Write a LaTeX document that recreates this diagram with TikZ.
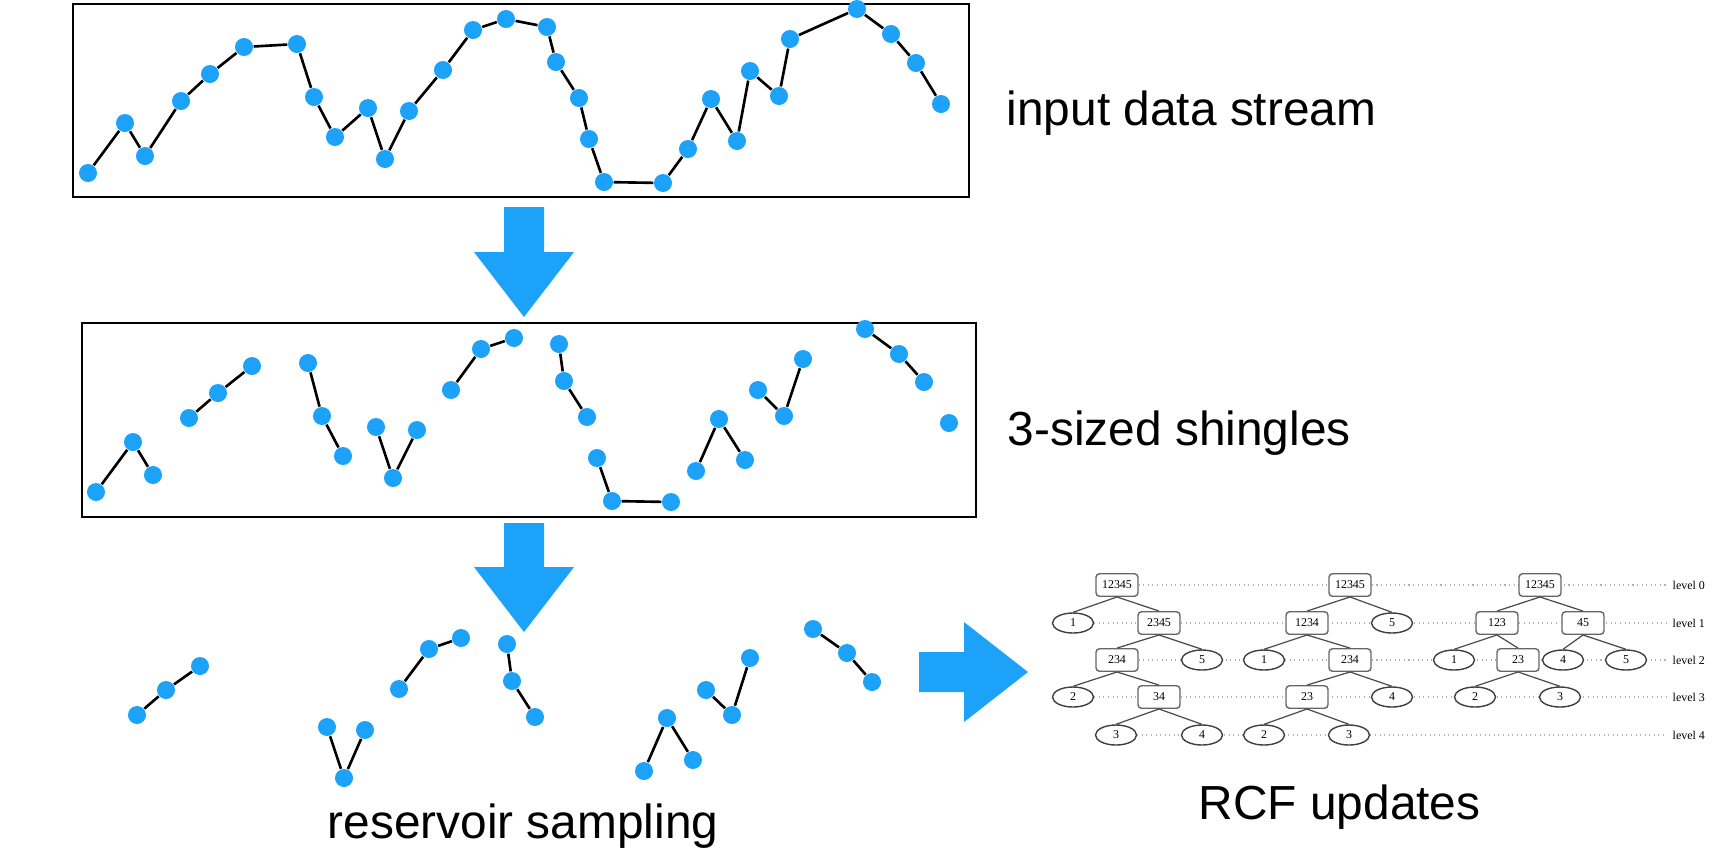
\documentclass[tikz,border=0pt]{standalone}
\usepackage{fontspec}
\setmainfont{Liberation Sans}
\newfontfamily\treefont{Liberation Serif}
\usetikzlibrary{shapes.geometric,backgrounds}

\definecolor{dotblue}{HTML}{1DA2FA}

\begin{document}
\begin{tikzpicture}[
    x=0.01cm, y=-0.01cm,
    dot/.style={circle, fill=dotblue, inner sep=0pt, minimum size=0.18cm},
    link/.style={draw=black, line width=0.75pt},
    streambox/.style={draw=black, line width=0.75pt},
    bigarrow/.style={fill=dotblue},
    caption/.style={anchor=base west, inner sep=0pt,
        font=\fontsize{13.6}{16}\selectfont},
    tbox/.style={
        draw=black!60,
        fill=white,
        rounded corners=1pt,
        minimum width=0.42cm,
        minimum height=0.225cm,
        inner sep=0pt,
        font=\treefont\fontsize{3.4}{4}\selectfont
    },
    tleaf/.style={
        ellipse,
        draw=black!75,
        fill=white,
        minimum width=0.41cm,
        minimum height=0.2cm,
        inner sep=0pt,
        font=\treefont\fontsize{3.4}{4}\selectfont
    },
    tedge/.style={draw=black!70, line width=0.35pt},
    levelline/.style={draw=black!30, densely dotted, line width=0.3pt},
    lvl/.style={anchor=west, inner sep=0pt, inner xsep=0.05cm,
        font=\treefont\fontsize{3.4}{4}\selectfont}
]
    \useasboundingbox (0,0) rectangle (1723,856);

    % input data stream
    \draw[streambox] (73,4) rectangle (969,197);
    \foreach \px/\py [count=\i] in {88/173, 125/123, 145/156, 181/101, 210/74,
        244/47, 297/44, 314/97, 335/137, 368/108, 385/159, 409/111, 443/70,
        473/30, 506/19, 547/27, 556/62, 579/98, 589/139, 604/182, 663/183,
        688/149, 711/99, 737/141, 750/71, 779/96, 790/39, 857/9, 891/34,
        916/63, 941/104}
        \node[dot] (s\i) at (\px,\py) {};
    \foreach \i [remember=\i as \j (initially 1)] in {2,...,31}
        \draw[link] (s\j) -- (s\i);
    \node[caption] (stream) at (1006,125) {input data stream};

    \fill[bigarrow] (504,207) -- (544,207) -- (544,252) -- (574,252)
        -- (524,317) -- (474,252) -- (504,252) -- cycle;

    % shingles
    \draw[streambox] (82,323) rectangle (976,517);
    \foreach \px/\py [count=\i] in {96/492, 133/442, 153/475, 189/418, 218/393,
        252/366, 308/363, 322/416, 343/456, 376/427, 393/478, 417/430,
        451/390, 481/349, 514/338, 559/344, 564/381, 587/417, 597/458,
        612/501, 671/502, 696/471, 719/419, 745/460, 758/390, 784/416,
        803/359, 865/329, 899/354, 924/382, 949/423}
        \node[dot] (k\i) at (\px,\py) {};
    \foreach \a/\b in {1/2, 2/3, 4/5, 5/6, 7/8, 8/9, 10/11, 11/12, 13/14,
        14/15, 16/17, 17/18, 19/20, 20/21, 22/23, 23/24, 25/26, 26/27,
        28/29, 29/30}
        \draw[link] (k\a) -- (k\b);
    \node[caption] (shingles) at (1007,445) {3-sized shingles};

    \fill[bigarrow] (504,523) -- (544,523) -- (544,567) -- (574,567)
        -- (524,632) -- (474,567) -- (504,567) -- cycle;

    % reservoir sampling
    \foreach \px/\py [count=\i] in {137/715, 166/690, 200/666, 327/727,
        344/778, 365/730, 399/689, 429/649, 461/638, 507/644, 512/681,
        535/717, 644/771, 667/718, 693/760, 706/690, 732/715, 750/658,
        813/629, 847/653, 872/682}
        \node[dot] (r\i) at (\px,\py) {};
    \foreach \a/\b in {1/2, 2/3, 4/5, 5/6, 7/8, 8/9, 10/11, 11/12, 13/14,
        14/15, 16/17, 17/18, 19/20, 20/21}
        \draw[link] (r\a) -- (r\b);
    \node[caption] (reservoir) at (327,838) {reservoir sampling};

    \fill[bigarrow] (919,652) -- (964,652) -- (964,622) -- (1028,672)
        -- (964,722) -- (964,692) -- (919,692) -- cycle;

    % RCF trees
    \node[tbox]  (aR)    at (1117,585) {12345};
    \node[tleaf] (a1)    at (1073,623) {1};
    \node[tbox]  (a2345) at (1159,623) {2345};
    \node[tbox]  (a234)  at (1117,660) {234};
    \node[tleaf] (a5)    at (1202,660) {5};
    \node[tleaf] (a2)    at (1073,697) {2};
    \node[tbox]  (a34)   at (1159,697) {34};
    \node[tleaf] (a3)    at (1116,735) {3};
    \node[tleaf] (a4)    at (1202,735) {4};

    \node[tbox]  (bR)    at (1350,585) {12345};
    \node[tbox]  (b1234) at (1307,623) {1234};
    \node[tleaf] (b5)    at (1392,623) {5};
    \node[tleaf] (b1)    at (1264,660) {1};
    \node[tbox]  (b234)  at (1350,660) {234};
    \node[tbox]  (b23)   at (1307,697) {23};
    \node[tleaf] (b4)    at (1392,697) {4};
    \node[tleaf] (b2)    at (1264,735) {2};
    \node[tleaf] (b3)    at (1349,735) {3};

    \node[tbox]  (cR)    at (1540,585) {12345};
    \node[tbox]  (c123)  at (1497,623) {123};
    \node[tbox]  (c45)   at (1583,623) {45};
    \node[tleaf] (c1)    at (1454,660) {1};
    \node[tbox]  (c23)   at (1518,660) {23};
    \node[tleaf] (c4)    at (1563,660) {4};
    \node[tleaf] (c5)    at (1626,660) {5};
    \node[tleaf] (c2)    at (1475,697) {2};
    \node[tleaf] (c3)    at (1560,697) {3};

    \foreach \l [count=\i from 0] in {585,623,660,697,735}
        \node[lvl] (lv\i) at (1667,\l) {level \i};

    \foreach \p/\c in {aR/a1, aR/a2345, a2345/a234, a2345/a5, a234/a2,
        a234/a34, a34/a3, a34/a4, bR/b1234, bR/b5, b1234/b1, b1234/b234,
        b234/b23, b234/b4, b23/b2, b23/b3, cR/c123, cR/c45, c123/c1,
        c123/c23, c45/c4, c45/c5, c23/c2, c23/c3}
        \draw[tedge] (\p.south) -- (\c.north);

    \begin{scope}[on background layer]
        \foreach \n/\i in {aR/0, a1/1, a234/2, a2/3, a3/4}
            \draw[levelline] (\n) -- (lv\i);
    \end{scope}

    \node[caption] (rcf) at (1198,819) {RCF updates};
\end{tikzpicture}
\end{document}
